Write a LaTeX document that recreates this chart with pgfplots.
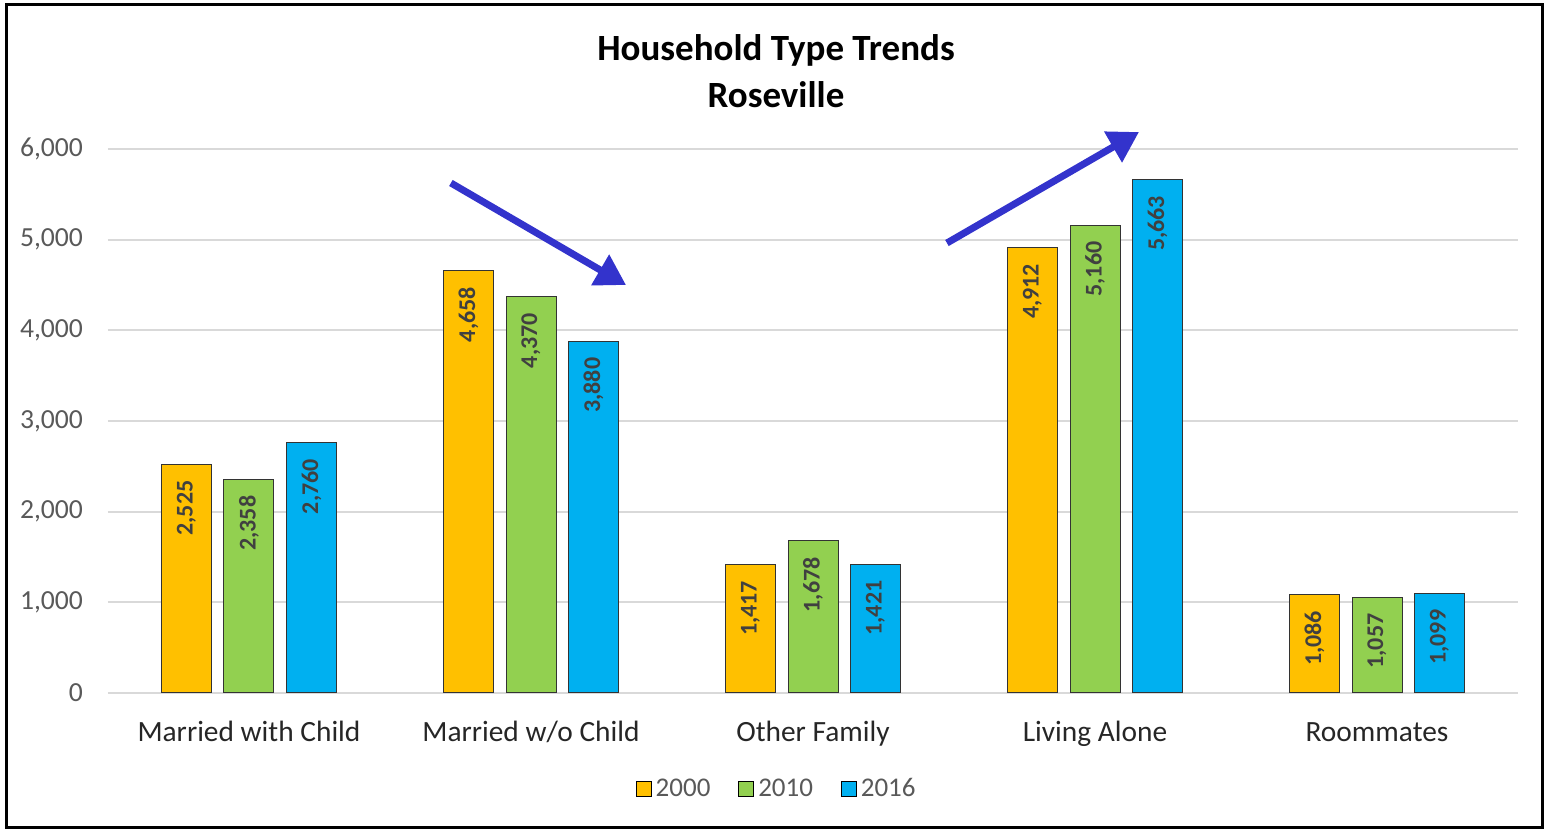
\documentclass[border=0pt]{standalone}
\usepackage{pgfplots}
\pgfplotsset{compat=1.18}
\usepackage{fontspec}
\setmainfont{Carlito}
\usetikzlibrary{arrows.meta}
\definecolor{cA}{HTML}{FFC000}
\definecolor{cB}{HTML}{92D050}
\definecolor{cC}{HTML}{00B0F0}
\definecolor{gridc}{HTML}{D9D9D9}
\definecolor{tickc}{HTML}{595959}
\definecolor{lblc}{HTML}{404040}
\definecolor{arrowc}{HTML}{3333CC}
\begin{document}
\begin{tikzpicture}
\path (0,0) rectangle (774pt,416.5pt);
\draw[line width=1.5pt] (3pt,2.5pt) rectangle (771pt,414pt);
\node[font=\fontsize{18.5}{20}\selectfont\bfseries] at (388pt,391.5pt) {Household Type Trends};
\node[font=\fontsize{18.5}{20}\selectfont\bfseries] at (388pt,369pt) {Roseville};
\begin{axis}[
  at={(54pt,70pt)}, anchor=south west,
  scale only axis, width=705pt, height=272pt,
  xmin=-0.5, xmax=4.5, ymin=0, ymax=6000,
  xtick={0,1,2,3,4},
  xticklabels={Married with Child, Married w/o Child, Other Family, Living Alone, Roommates},
  ytick={0,1000,...,6000},
  ymajorgrids, grid style={gridc, line width=1pt},
  axis line style={draw=none},
  major tick length=0pt,
  /pgf/number format/1000 sep={,},
  /pgf/number format/assume math mode=true,
  yticklabel style={font=\fontsize{13.8}{15}\selectfont, text=tickc, xshift=-9pt},
  xticklabel style={font=\fontsize{14.7}{16}\selectfont, text=black!85, yshift=-13pt, text height=0.75em, text depth=0.25em},
  ybar, bar width=25pt,
  clip=false,
  nodes near coords,
  every node near coord/.append style={rotate=90, anchor=east, inner xsep=8pt, inner ysep=0pt, font=\fontsize{12}{13}\selectfont\bfseries, text=lblc,
    /pgf/number format/1000 sep={,}, /pgf/number format/assume math mode=true},
  legend columns=3,
  legend style={at={(0.475,-0.1765)}, anchor=center, draw=none, font=\fontsize{13.5}{15}\selectfont, text=tickc,
    /tikz/every even column/.append style={column sep=12pt}},
  legend image code/.code={\draw[#1, draw=black, line width=0.5pt] (0pt,-3.7pt) rectangle (7.4pt,3.7pt);},
]
\addplot[fill=cA, draw=black!80, line width=0.5pt, bar shift=-31.25pt] coordinates {(0,2525) (1,4658) (2,1417) (3,4912) (4,1086)};
\addplot[fill=cB, draw=black!80, line width=0.5pt, bar shift=0pt] coordinates {(0,2358) (1,4370) (2,1678) (3,5160) (4,1057)};
\addplot[fill=cC, draw=black!80, line width=0.5pt, bar shift=31.25pt] coordinates {(0,2760) (1,3880) (2,1421) (3,5663) (4,1099)};
\legend{2000, 2010, 2016}
\draw[arrowc, line width=3.5pt, -{Triangle[length=15pt,width=17pt]}] (axis cs:0.716,5625) -- (axis cs:1.337,4500);
\draw[arrowc, line width=3.5pt, -{Triangle[length=15pt,width=17pt]}] (axis cs:2.475,4963) -- (axis cs:3.156,6187);
\end{axis}
\end{tikzpicture}
\end{document}
